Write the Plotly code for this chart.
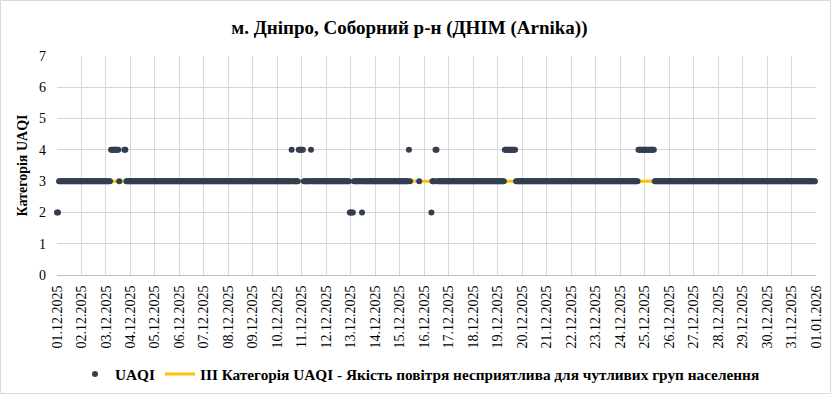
import pandas as pd
import plotly.graph_objects as go

# Hourly UAQI category, run-length encoded (None = no data)
run_values = [2, 3, 4, 3, None, 4, 3, 4, 3, 4, 3, 4, 3, 2, 3, 2, 3, 4, 3, None, 3, None,
              2, 3, 4, 3, 4, 3, 4, 3]
run_lengths = [2, 51, 8, 1, 4, 2, 162, 1, 6, 5, 7, 1, 37, 4, 8, 1, 45, 1, 1, 8, 1, 11,
               1, 3, 2, 66, 11, 120, 16, 158]
start_time = "2025-12-01 00:00"
threshold_value = 3
tick_dates = pd.date_range("2025-12-01", "2026-01-01", freq="D")
tick_labels = [d.strftime("%d.%m.%Y") for d in tick_dates]

uaqi = []
for v, n in zip(run_values, run_lengths):
    uaqi.extend([v] * n)
times = pd.date_range(start_time, periods=len(uaqi), freq="h")

FONT = "Liberation Serif, Times New Roman, serif"
fig = go.Figure()
fig.add_trace(go.Scatter(
    x=[times[0], times[-1]], y=[threshold_value, threshold_value], mode="lines",
    line=dict(color="#FFC000", width=3),
    name="ІІІ Категорія UAQI - Якість повітря несприятлива для чутливих груп населення",
    legendrank=2, hoverinfo="skip"))
fig.add_trace(go.Scatter(
    x=times, y=uaqi, mode="markers", name="UAQI",
    marker=dict(color="#333F50", size=6), cliponaxis=False, legendrank=1))

L, R, T, B = 57, 16, 56, 120
W, H = 832, 395
pw, ph = W - L - R, H - T - B

fig.update_layout(
    width=W, height=H,
    margin=dict(l=L, r=R, t=T, b=B, autoexpand=False),
    paper_bgcolor="white", plot_bgcolor="white",
    font=dict(family=FONT, color="#000000", size=14),
    title=dict(text="м. Дніпро, Соборний р-н (ДНІМ (Arnika))", x=0.492, xanchor="center",
               y=1 - 27 / H, yanchor="middle", automargin=False,
               font=dict(family=FONT, size=19, weight="bold", color="#000000")),
    legend=dict(orientation="h", x=(420 - L) / pw, xanchor="center",
                y=-(374 - (H - B)) / ph, yanchor="middle",
                font=dict(family=FONT, size=15.3, weight="bold", color="#000000"),
                bgcolor="rgba(0,0,0,0)"),
    showlegend=True,
    shapes=[dict(type="rect", xref="paper", yref="paper",
                 x0=-(L - 0.5) / pw, x1=(W - 1.5 - L) / pw,
                 y0=-(B - 1.5) / ph, y1=1 + (T - 0.5) / ph,
                 line=dict(color="#D9D9D9", width=1), fillcolor="rgba(0,0,0,0)", layer="below")],
)
fig.update_xaxes(
    type="date", range=[tick_dates[0], tick_dates[-1]], automargin=False,
    tickmode="array", tickvals=list(tick_dates), ticktext=tick_labels, tickangle=-90,
    tickfont=dict(family=FONT, size=14, color="#000000"),
    showgrid=True, gridcolor="#D9D9D9", gridwidth=1,
    showline=True, linecolor="#BFBFBF", linewidth=1, ticks="", ticklabelstandoff=4,
    zeroline=False)
fig.update_yaxes(
    range=[0, 7], dtick=1, tick0=0, automargin=False,
    tickfont=dict(family=FONT, size=14, color="#000000"),
    showgrid=True, gridcolor="#D0D6E0", gridwidth=1, zeroline=False,
    showline=False, ticks="", ticklabelstandoff=10,
    title=dict(text="Категорія UAQI", standoff=8,
               font=dict(family=FONT, size=14, weight="bold", color="#000000")))

fig.write_html("out.html", config={"displayModeBar": False},
               post_script="document.body.style.margin='0';")
